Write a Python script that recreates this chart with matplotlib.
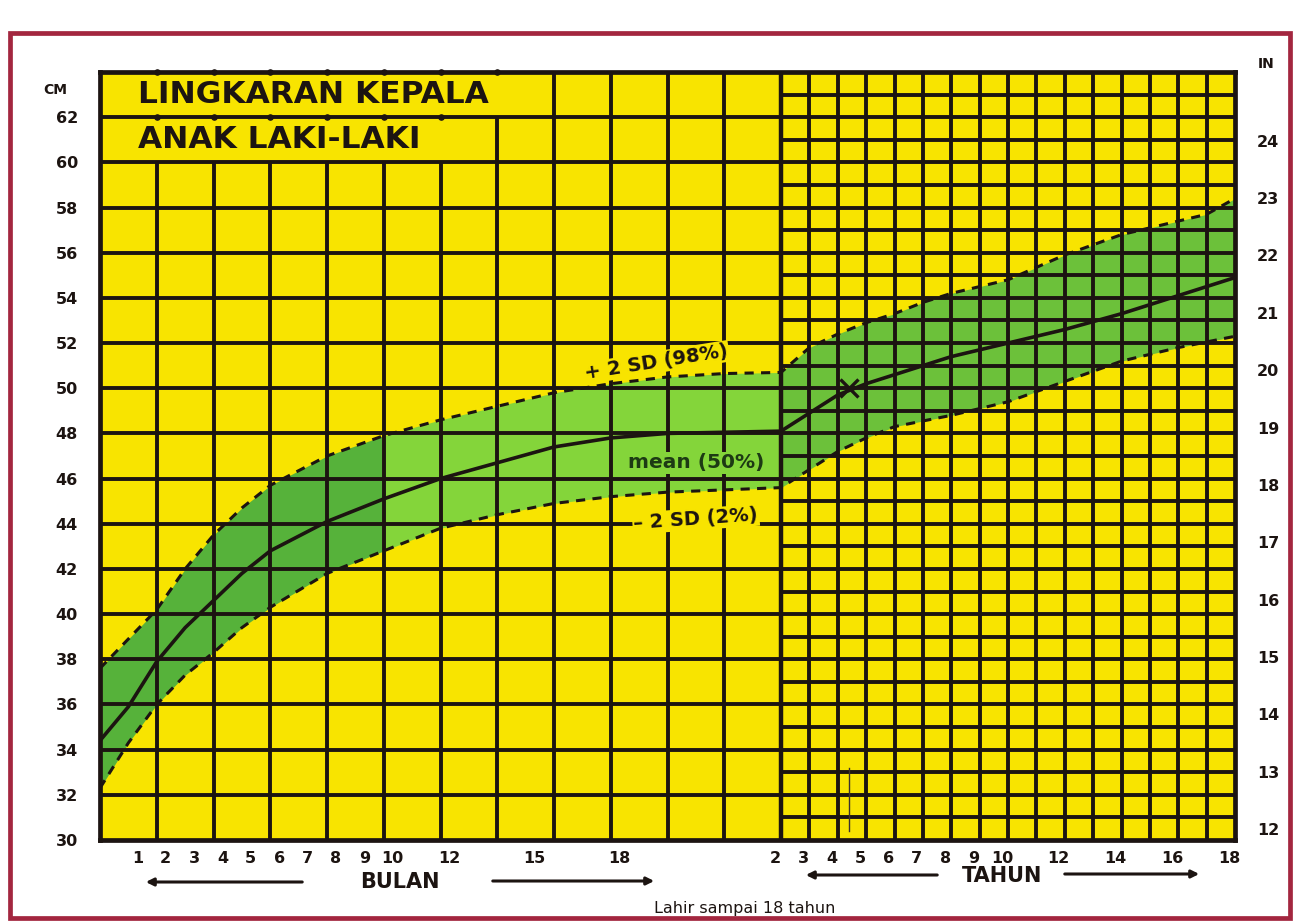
import matplotlib

matplotlib.use("Agg")
import matplotlib.pyplot as plt
import numpy as np
from matplotlib.patches import Rectangle
from matplotlib.transforms import ScaledTranslation

# age in months (the TAHUN half starts at 24 months = 2 years)
AGE_MONTHS = [0, 1, 2, 3, 4, 5, 6, 8, 10, 12, 14, 16, 18, 20, 22, 24,
              36, 48, 60, 72, 84, 96, 120, 144, 168, 192, 204, 216]
MEAN_CM = [34.4, 35.9, 37.9, 39.4, 40.6, 41.8, 42.8, 44.1, 45.1, 46.0, 46.7, 47.4,
           47.8, 48.0, 48.05, 48.1,
           48.9, 49.7, 50.2, 50.6, 51.0, 51.4, 52.0, 52.6, 53.3, 54.1, 54.5, 54.9]
PLUS2SD_CM = [37.6, 38.9, 40.2, 42.0, 43.5, 44.7, 45.7, 47.0, 47.9, 48.6, 49.2, 49.8,
              50.2, 50.5, 50.65, 50.7,
              51.8, 52.4, 52.9, 53.3, 53.8, 54.2, 54.8, 55.9, 56.8, 57.4, 57.7, 58.4]
MINUS2SD_CM = [32.3, 34.3, 36.0, 37.3, 38.3, 39.4, 40.3, 41.8, 42.8, 43.8, 44.4, 44.9,
               45.2, 45.4, 45.5, 45.6,
               46.4, 47.2, 47.8, 48.3, 48.55, 48.8, 49.4, 50.3, 51.2, 51.8, 52.05, 52.3]

# the plotted child (pen mark on the chart)
CHILD_AGE_MONTHS = 52.8
CHILD_CM = 50.0

MONTH_TICKS = [1, 2, 3, 4, 5, 6, 7, 8, 9, 10, 12, 15, 18]
YEAR_TICKS = [2, 3, 4, 5, 6, 7, 8, 9, 10, 12, 14, 16, 18]
CM_TICKS = list(range(30, 63, 2))
INCH_TICKS = list(range(12, 25))

YELLOW = "#f8e400"
GREEN_EARLY = "#56b23a"
GREEN_LATE = "#84d53a"
GREEN_YEARS = "#6cc13a"
INK = "#1c1411"
FRAME = "#a3263f"
W, H = 1303, 924


def fx(x):
    return x / W


def fy(y):
    return 1 - y / H


def age_to_pos(a):
    a = np.asarray(a, dtype=float)
    return np.where(a <= 24, a, 24 + (a - 24) / 12)


def pos_to_age(p):
    p = np.asarray(p, dtype=float)
    return np.where(p <= 24, p, 24 + (p - 24) * 12)


fig = plt.figure(figsize=(W / 100, H / 100), dpi=100)
fig.patch.set_facecolor("white")
fig.add_artist(Rectangle((fx(10), fy(918)), fx(1280), fy(33) - fy(918),
                         transform=fig.transFigure, fill=False,
                         edgecolor=FRAME, lw=3.4))

ax = fig.add_axes([fx(100), fy(840), fx(1135), fy(72) - fy(840)])
ax.set_xscale("function", functions=(age_to_pos, pos_to_age))
ax.set_xlim(0, 216)
ax.set_ylim(30, 64)
ax.set_facecolor(YELLOW)

age = np.array(AGE_MONTHS)
mean = np.array(MEAN_CM)
hi = np.array(PLUS2SD_CM)
lo = np.array(MINUS2SD_CM)

# green band between -2 SD and +2 SD
for sel, col in [((age <= 10), GREEN_EARLY),
                 ((age >= 10) & (age <= 24), GREEN_LATE),
                 ((age >= 24), GREEN_YEARS)]:
    ax.fill_between(age[sel], lo[sel], hi[sel], color=col, lw=0, zorder=1)

# grid: coarse (2 months x 2 cm) on the left, fine (1 year x 1 cm) on the right
glw = 2.8
for m in range(2, 24, 2):
    top = 60 if m < 14 else (62 if m == 14 else 64)
    ax.vlines(m, 30, top, color=INK, lw=glw, zorder=2)
ax.vlines(24, 30, 64, color=INK, lw=glw + 0.4, zorder=2)
for yr in range(3, 18):
    ax.vlines(yr * 12, 30, 64, color=INK, lw=glw, zorder=2)
ax.hlines(range(32, 63, 2), 0, 24, color=INK, lw=glw, zorder=2)
ax.hlines(range(31, 64), 24, 216, color=INK, lw=glw, zorder=2)
ax.scatter(range(2, 15, 2), [64] * 7, s=14, color=INK, zorder=2, clip_on=False)
ax.scatter(range(2, 14, 2), [62] * 6, s=14, color=INK, zorder=2)

# curves
ax.plot(age, mean, color=INK, lw=2.6, zorder=3, solid_capstyle="round")
ax.plot(age, hi, color=INK, lw=2.2, ls=(0, (3, 2.4)), zorder=3)
ax.plot(age, lo, color=INK, lw=2.2, ls=(0, (3, 2.4)), zorder=3)
ax.plot([CHILD_AGE_MONTHS], [CHILD_CM], marker="x", ms=13, mew=2.4,
        color=INK, zorder=4)
ax.plot([CHILD_AGE_MONTHS] * 2, [30.4, 33.2], color="#3a3030", lw=1.0, zorder=4)

# curve labels
ax.text(19.6, 51.15, "+ 2 SD (98%)", rotation=9, ha="center", va="center",
        fontsize=14, fontweight="bold", color=INK, zorder=5,
        bbox=dict(facecolor=YELLOW, edgecolor="none", pad=1))
ax.text(21.0, 46.7, "mean (50%)", ha="center", va="center", fontsize=14.5,
        fontweight="bold", color="#1d3a14", zorder=5,
        bbox=dict(facecolor=GREEN_LATE, edgecolor="none", pad=1))
ax.text(21.0, 44.2, "\u2013 2 SD (2%)", rotation=4, ha="center", va="center",
        fontsize=14, fontweight="bold", color=INK, zorder=5,
        bbox=dict(facecolor=YELLOW, edgecolor="none", pad=1))

# title box
ax.text(1.35, 63.0, "LINGKARAN KEPALA", ha="left", va="center",
        fontsize=22.5, fontweight="heavy", color=INK, zorder=5)
ax.text(1.35, 61.0, "ANAK LAKI-LAKI", ha="left", va="center",
        fontsize=22.5, fontweight="heavy", color=INK, zorder=5)

for s in ax.spines.values():
    s.set_linewidth(3.4)
    s.set_color(INK)

# axes ticks
tick_font = dict(fontsize=11.5, fontweight="heavy", color=INK)
ax.set_yticks(CM_TICKS)
ax.set_yticklabels([str(v) for v in CM_TICKS], **tick_font)
ax.tick_params(axis="y", length=0, pad=16)

xt = MONTH_TICKS + [y * 12 for y in YEAR_TICKS]
ax.set_xticks(xt)
ax.set_xticklabels([str(v) for v in MONTH_TICKS + YEAR_TICKS], **tick_font)
ax.tick_params(axis="x", length=0, pad=8)
ax.xaxis.set_minor_locator(matplotlib.ticker.NullLocator())
for i, lab in enumerate(ax.get_xticklabels()):
    shift = 9 if i < len(MONTH_TICKS) else -6
    lab.set_transform(lab.get_transform() + ScaledTranslation(shift / 100, 0, fig.dpi_scale_trans))

sec = ax.secondary_yaxis("right", functions=(lambda c: c / 2.54, lambda i: i * 2.54))
sec.set_yticks(INCH_TICKS)
sec.set_yticklabels([str(v) for v in INCH_TICKS], **tick_font)
sec.tick_params(length=0, pad=16)
sec.spines["right"].set_visible(False)

fig.text(fx(55), fy(90), "CM", fontsize=10, fontweight="heavy", color=INK,
         ha="center", va="center")
fig.text(fx(1266), fy(64), "IN", fontsize=10, fontweight="heavy", color=INK,
         ha="center", va="center")

# BULAN / TAHUN arrows
fig.text(fx(400), fy(882), "BULAN", fontsize=15, fontweight="bold", color=INK,
         ha="center", va="center")
fig.text(fx(1002), fy(876), "TAHUN", fontsize=15, fontweight="bold", color=INK,
         ha="center", va="center")
for x0, x1, yy in [(305, 143, 882), (490, 657, 881), (940, 803, 875), (1062, 1202, 874)]:
    fig.add_artist(matplotlib.patches.FancyArrowPatch(
        (fx(x0), fy(yy)), (fx(x1), fy(yy)), transform=fig.transFigure,
        arrowstyle="-|>", mutation_scale=11, lw=2.2, color=INK))

fig.text(fx(745), fy(908), "Lahir sampai 18 tahun", fontsize=11.5, color=INK,
         ha="center", va="center")

fig.savefig("out.png", dpi=100, facecolor="white")
